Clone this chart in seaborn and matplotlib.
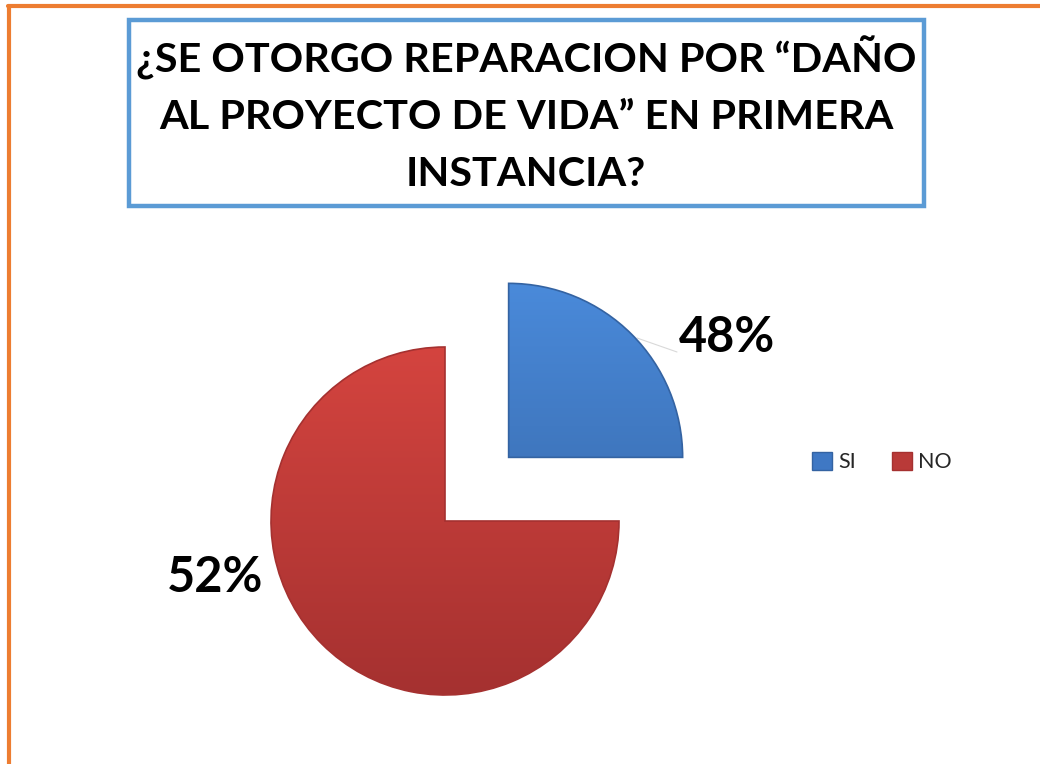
import numpy as np
import matplotlib
matplotlib.use("Agg")
import matplotlib.pyplot as plt
from matplotlib.patches import Rectangle, Patch
from matplotlib.lines import Line2D
from matplotlib.colors import to_rgb
import seaborn as sns

# datos del grafico
categorias = ["SI", "NO"]
tamanos = [25, 75]          # tamaño dibujado de cada porción
etiquetas = ["48%", "52%"]  # etiquetas tal como aparecen
colores = ["#3F78C4", "#B93A38"]
claros = ["#4A8ADA", "#D4443F"]
oscuros = ["#3463A2", "#A53130"]

sns.set_theme(style="white")
plt.rcParams['font.family'] = ['Lato', 'DejaVu Sans']

W, H = 1040, 764
fig = plt.figure(figsize=(W / 100, H / 100), dpi=100)
ax = fig.add_axes([0, 0, 1, 1])

# pastel con la porcion SI separada
radio = 174
centro = (445, H - 521)
wedges, _ = ax.pie(tamanos, colors=colores, startangle=90, counterclock=False,
                   explode=[90, 0], radius=radio, center=centro, frame=False)

# degradado vertical dentro de cada porcion
for w, c1, c2 in zip(wedges, claros, oscuros):
    cx, cy = w.center
    rr = w.r
    grad = np.linspace(0, 1, 256)[:, None, None]
    img = (1 - grad) * np.array(to_rgb(c1)) + grad * np.array(to_rgb(c2))
    im = ax.imshow(img, extent=(cx - rr, cx + rr, cy - rr, cy + rr),
                   origin='upper', aspect='auto', zorder=2)
    im.set_clip_path(w)
    w.set_edgecolor(c2)
    w.set_linewidth(1.2)
    w.set_zorder(3)
    w.set_facecolor('none')

ax.set_xlim(0, W)
ax.set_ylim(0, H)
ax.axis('off')

# etiquetas de porcentaje
ax.plot([637, 677], [H - 338, H - 352], color='#D9D9D9', lw=0.8, zorder=1)
ax.text(727, H - 338, etiquetas[0], ha='center', va='center', fontsize=35, fontweight='bold', color='black')
ax.text(215, H - 577, etiquetas[1], ha='center', va='center', fontsize=35, fontweight='bold', color='black')

# titulo dentro de recuadro azul
fig.add_artist(Rectangle((129 / W, 1 - 206 / H), (924 - 129) / W, (206 - 20) / H,
                         transform=fig.transFigure, fill=False, edgecolor='#5B9BD5', lw=3.2))
lineas = ["¿SE OTORGO REPARACION POR “DAÑO", "AL PROYECTO DE VIDA” EN PRIMERA", "INSTANCIA?"]
for i, txt in enumerate(lineas):
    fig.text(526 / W, 1 - (72 + 57 * i) / H, txt, ha='center', va='baseline',
             fontsize=29.8, fontweight='bold', color='black')

# leyenda
handles = [Patch(facecolor=c, edgecolor=d) for c, d in zip(colores, oscuros)]
fig.legend(handles, categorias, loc='center', bbox_to_anchor=(882 / W, 1 - 462 / H), ncol=2,
           frameon=False, fontsize=15.5, handlelength=0.9, handleheight=0.9,
           handletextpad=0.3, columnspacing=1.7)

# marco naranja
fig.add_artist(Line2D([9 / W, 9 / W], [0, 1 - 6 / H], transform=fig.transFigure, color='#ED7D31', lw=3))
fig.add_artist(Line2D([8 / W, 1], [1 - 6 / H, 1 - 6 / H], transform=fig.transFigure, color='#ED7D31', lw=3))

plt.savefig('out.png', dpi=100)
